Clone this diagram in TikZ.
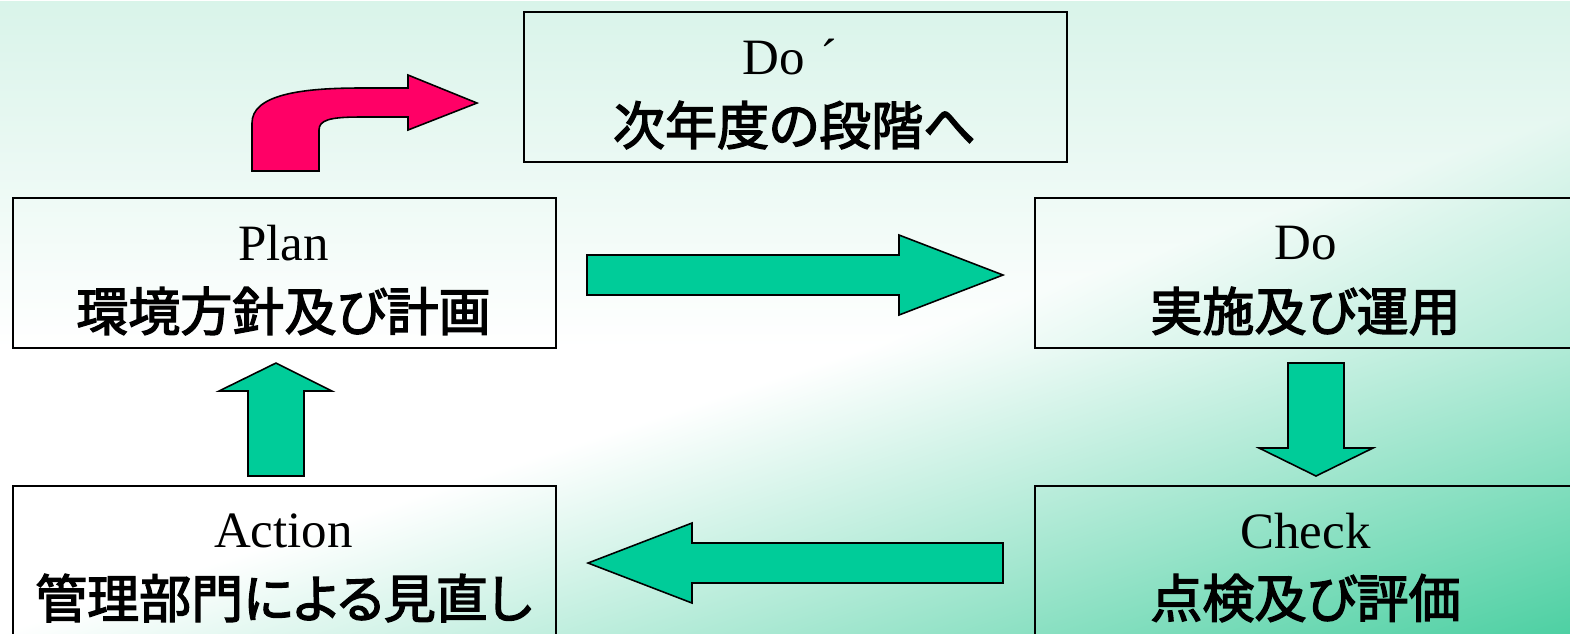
\documentclass[tikz,border=0pt]{standalone}
\usepackage{fontspec}
\setmainfont{Liberation Serif}
\newfontfamily\jpfont{Noto Sans CJK JP}[FakeBold=2.6, RawFeature=+palt]
\definecolor{arrgreen}{RGB}{0,204,153}
\definecolor{arrred}{RGB}{255,0,102}
\pgfdeclarefunctionalshading{bgshade}{\pgfpointorigin}{\pgfpoint{445.04bp}{179.43bp}}{}{
  179.43 div 1 exch sub
  exch 445.04 div exch
  2 copy 0.55 mul exch 0.45 mul add
  0.55 sub 0.45 div
  dup 0 lt {pop 0} if
  dup 1 gt {pop 1} if
  exch 0.55 div 1 exch sub
  dup 0 lt {pop 0} if
  3 -1 roll pop
  2 copy 0.150 mul exch 0.694 mul add 1 exch sub
  3 1 roll
  2 copy 0.045 mul exch 0.184 mul add 1 exch sub
  3 1 roll
  0.085 mul exch 0.361 mul add 1 exch sub
}
\tikzset{
  box/.style={draw=black, line width=0.45pt, minimum width=54.3mm, minimum height=15mm,
              inner sep=0pt, anchor=north west},
  lat/.style={font=\fontsize{14.5pt}{17pt}\selectfont, inner sep=0pt},
  jpt/.style={font=\jpfont\fontsize{14.8pt}{17pt}\selectfont, inner sep=0pt},
  blockarrow/.style={draw=black, line width=0.45pt, line join=miter},
}
\begin{document}
\begin{tikzpicture}[x=0.1mm, y=-0.1mm]
\useasboundingbox (0,0) rectangle (1570,633);
\node[inner sep=0pt, outer sep=0pt, anchor=north west] (bg) at (0,0) {\pgfuseshading{bgshade}};

% boxes
\node[box] (dop) at (523,11) {};
\node[box] (plan) at (12,197) {};
\node[box] (do) at (1034,197) {};
\node[box] (check) at (1034,485) {};
\node[box] (action) at (12,485) {};

% texts
\node[lat] (dopL) at (790,57) {Do\kern0.3em´};
\node[jpt] (dopJ) at (794.5,125) {次年度の段階へ};
\node[lat] (planL) at (283.5,243) {Plan};
\node[jpt] (planJ) at (283.5,311) {環境方針及び計画};
\node[lat] (doL) at (1305.5,243) {Do};
\node[jpt] (doJ) at (1305.5,311) {実施及び運用};
\node[lat] (checkL) at (1305.5,531) {Check};
\node[jpt] (checkJ) at (1305.5,598) {点検及び評価};
\node[lat] (actionL) at (283.5,531) {Action};
\node[jpt] (actionJ) at (283.5,598) {管理部門による見直し};

% right arrow Plan -> Do
\draw[blockarrow, fill=arrgreen] (587,255) -- (899,255) -- (899,235) -- (1003,275)
  -- (899,315) -- (899,295) -- (587,295) -- cycle;
% down arrow Do -> Check
\draw[blockarrow, fill=arrgreen] (1288,363) -- (1344,363) -- (1344,448) -- (1373,448)
  -- (1316,476) -- (1259,448) -- (1288,448) -- cycle;
% left arrow Check -> Action
\draw[blockarrow, fill=arrgreen] (1003,543) -- (692,543) -- (692,523) -- (588,563)
  -- (692,603) -- (692,583) -- (1003,583) -- cycle;
% up arrow Action -> Plan
\draw[blockarrow, fill=arrgreen] (248,476) -- (248,391) -- (219,391) -- (276,363)
  -- (332,391) -- (304,391) -- (304,476) -- cycle;
% curved red arrow Plan -> Do'
\draw[blockarrow, fill=arrred] (252,171) -- (252,123)
  .. controls (252,95) and (300,88) .. (360,88) -- (408,88) -- (408,75) -- (477,103)
  -- (408,130) -- (408,117) -- (360,117)
  .. controls (330,117) and (319,120) .. (319,130) -- (319,171) -- cycle;
\end{tikzpicture}
\end{document}
